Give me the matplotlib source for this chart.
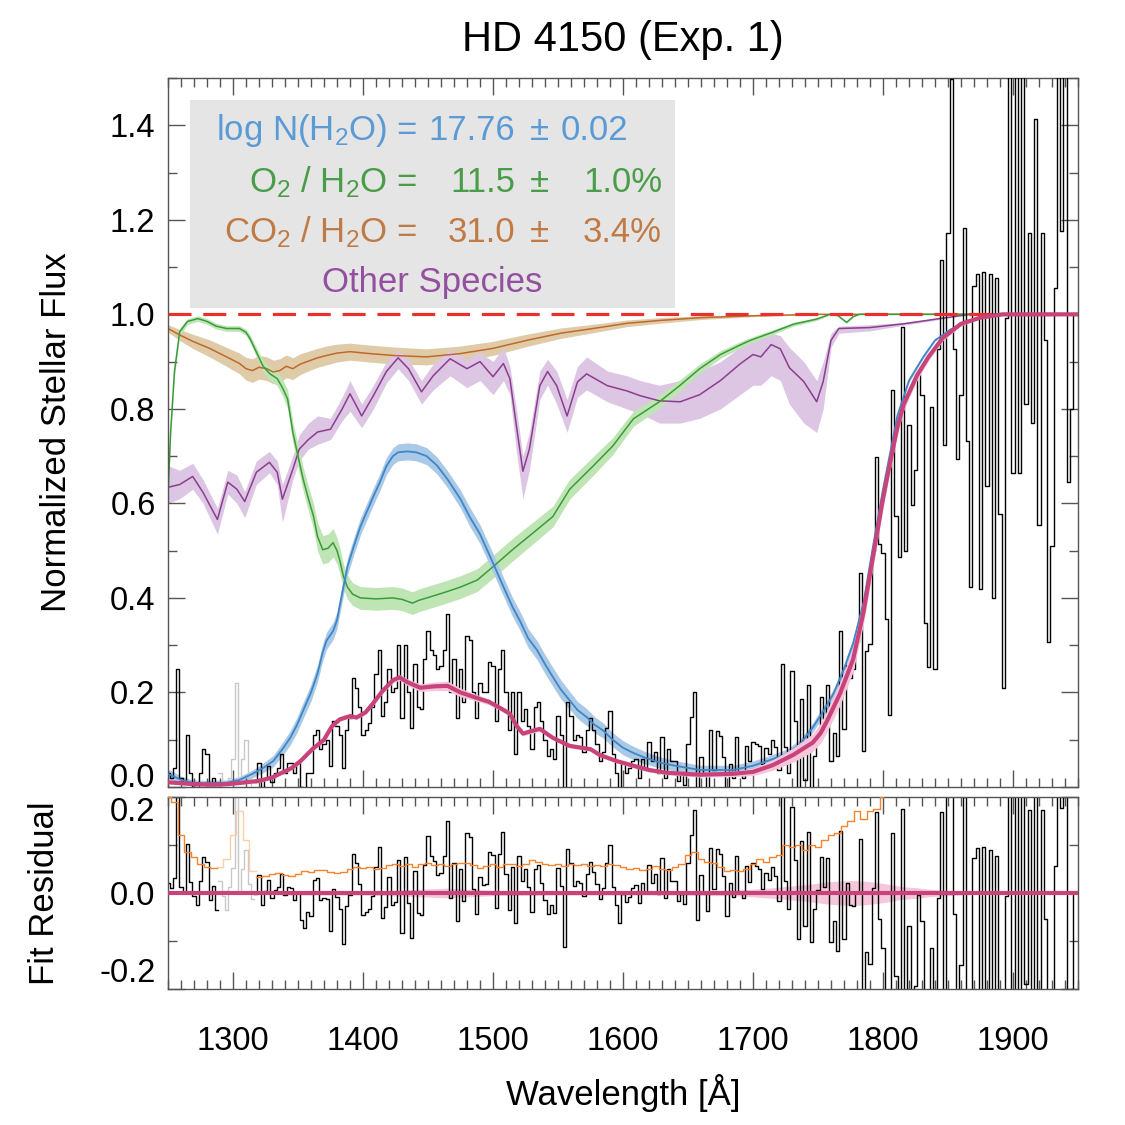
import matplotlib
matplotlib.use("Agg")
import matplotlib.pyplot as plt
from matplotlib.patches import Rectangle
from matplotlib.ticker import MultipleLocator
import numpy as np

flux = [
    0.03, 0.02, 0.04, 0.25, 0.02, 0.01, 0.11, 0.03, 0.0, -0.02,
    0.03, 0.08, 0.07, -0.01, 0.02, -0.03, 0.03, 0.0, -0.03, 0.02,
    0.06, 0.22, 0.01, 0.06, 0.1, 0.03, 0.0, 0.01, 0.05, -0.01,
    0.02, 0.045, 0.01, 0.03, 0.04, 0.07, 0.03, 0.05, 0.05, 0.03,
    0.05, 0.0, -0.01, 0.03, 0.03, 0.11, 0.12, 0.08, 0.09, 0.1,
    0.045, 0.14, 0.13, 0.11, 0.04, 0.12, 0.145, 0.23, 0.21, 0.17,
    0.11, 0.12, 0.135, 0.17, 0.24, 0.29, 0.15, 0.18, 0.25, 0.2,
    0.21, 0.3, 0.145, 0.3, 0.2, 0.125, 0.26, 0.17, 0.165, 0.27,
    0.33, 0.29, 0.28, 0.25, 0.255, 0.29, 0.365, 0.2, 0.27, 0.145,
    0.25, 0.18, 0.32, 0.31, 0.2, 0.145, 0.22, 0.2, 0.2, 0.265,
    0.255, 0.14, 0.25, 0.29, 0.2, 0.12, 0.2, 0.07, 0.2, 0.14,
    0.165, 0.13, 0.08, 0.17, 0.18, 0.14, 0.1, 0.066, 0.08, 0.06,
    0.15, 0.11, -0.02, 0.18, 0.15, 0.1, 0.11, 0.105, 0.075, 0.12,
    0.145, 0.12, 0.09, 0.055, 0.075, 0.125, 0.16, 0.07, 0.03, -0.01,
    0.05, 0.03, 0.04, 0.055, 0.06, 0.02, 0.06, 0.04, 0.095, 0.055,
    0.073, 0.03, 0.105, 0.02, 0.08, 0.055, 0.055, 0.013, 0.027, 0.005,
    0.09, 0.148, 0.2, -0.03, 0.063, 0.027, -0.01, 0.12, 0.035, 0.118,
    0.108, 0.063, -0.02, 0.048, 0.02, 0.105, 0.03, 0.02, 0.087, 0.055,
    0.095, 0.09, 0.087, 0.048, 0.083, 0.07, 0.1, 0.085, 0.037, 0.26,
    0.085, 0.03, 0.245, 0.14, -0.02, 0.187, 0.015, 0.216, -0.01, 0.066,
    0.114, 0.191, 0.143, 0.216, 0.056, 0.114, 0.066, 0.331, 0.123, 0.259,
    0.23, 0.25, 0.307, 0.452, 0.076, 0.288, 0.302, 0.5, 0.699, 0.515,
    0.496, 0.356, 0.153, 0.839, 0.573, 0.486, 0.974, 0.5, 0.766, 0.597,
    0.67, 0.873, 0.83, 0.346, 0.254, 0.805, 0.25, 0.926, 1.115, 0.723,
    1.173, 1.497, 0.926, 0.694, 0.83, 1.183, 0.733, 0.423, 1.061, 1.085,
    0.418, 1.09, 0.636, 1.085, 0.399, 1.076, 0.578, 0.21, 0.993, 1.7,
    0.665, 1.7, 0.665, 1.7, 0.81, 1.173, 0.77, 1.414, 0.554, 1.173,
    0.945, 0.307, 0.51, 1.056, 1.7, 1.177, 1.7, 0.645, 0.8, 1.0,
]
wl_start = 1250.0
wl_step = 2.5
mask_lo, mask_hi = 1290.0, 1317.5   # grey (excluded) pixels

# error on the fit, 5 A steps from 1250 A (orange, residual panel)
sigma = [
    0.2, 0.19, 0.12, 0.085, 0.075, 0.06, 0.055, 0.052, 0.055, 0.07,
    0.12, 0.17, 0.11, 0.045, 0.034, 0.036, 0.04, 0.042, 0.038, 0.035,
    0.04, 0.045, 0.044, 0.048, 0.047, 0.043, 0.042, 0.044, 0.05, 0.055,
    0.052, 0.055, 0.05, 0.053, 0.058, 0.06, 0.057, 0.06, 0.055, 0.06,
    0.062, 0.058, 0.06, 0.057, 0.06, 0.063, 0.062, 0.058, 0.052, 0.057,
    0.06, 0.055, 0.06, 0.06, 0.057, 0.06, 0.068, 0.065, 0.06, 0.058,
    0.06, 0.057, 0.06, 0.058, 0.06, 0.056, 0.058, 0.056, 0.06, 0.058,
    0.055, 0.05, 0.052, 0.048, 0.05, 0.056, 0.05, 0.048, 0.055, 0.06,
    0.08, 0.085, 0.07, 0.065, 0.062, 0.055, 0.045, 0.047, 0.045, 0.05,
    0.06, 0.07, 0.065, 0.075, 0.08, 0.1, 0.095, 0.1, 0.09, 0.1,
    0.095, 0.11, 0.12, 0.125, 0.14, 0.15, 0.17, 0.155, 0.17, 0.175,
    0.2,
]
sig_step = 5.0

# H2O transmission
h2o_wl = [1250, 1260, 1269, 1280, 1295, 1305, 1315, 1323, 1331, 1338,
          1344, 1349, 1354, 1360, 1365, 1369, 1372, 1377, 1380, 1384,
          1388, 1393, 1398, 1408, 1413, 1418, 1423, 1427, 1434, 1441,
          1449, 1457, 1465, 1475, 1482, 1490, 1500, 1507, 1515, 1521,
          1527, 1534, 1540, 1546, 1552, 1559, 1565, 1572, 1578, 1585,
          1592, 1600, 1608, 1617, 1628, 1640, 1659, 1685, 1700, 1711,
          1726, 1736, 1746, 1754, 1762, 1770, 1777, 1785, 1793, 1800,
          1805, 1811, 1820, 1831, 1840, 1852, 1865, 1877, 1900, 1950]
h2o_val = [0.028, 0.015, 0.009, 0.008, 0.009, 0.015, 0.028, 0.04, 0.055, 0.08,
           0.104, 0.13, 0.162, 0.2, 0.24, 0.285, 0.31, 0.33, 0.353, 0.41,
           0.466, 0.51, 0.551, 0.615, 0.645, 0.679, 0.7, 0.708, 0.71, 0.708,
           0.7, 0.68, 0.651, 0.609, 0.572, 0.535, 0.474, 0.43, 0.381, 0.35,
           0.315, 0.289, 0.26, 0.233, 0.207, 0.183, 0.163, 0.148, 0.132, 0.119,
           0.1, 0.083, 0.072, 0.062, 0.052, 0.045, 0.036, 0.036, 0.045, 0.055,
           0.07, 0.09, 0.126, 0.16, 0.198, 0.25, 0.304, 0.39, 0.52, 0.63,
           0.7, 0.785, 0.86, 0.91, 0.945, 0.968, 0.985, 0.994, 1.0, 1.0]
h2o_err = [0.01, 0.008, 0.006, 0.006, 0.006, 0.007, 0.008, 0.01, 0.012, 0.014,
           0.015, 0.016, 0.017, 0.018, 0.018, 0.018, 0.018, 0.018, 0.018, 0.018,
           0.018, 0.018, 0.018, 0.018, 0.018, 0.018, 0.018, 0.018, 0.018, 0.018,
           0.018, 0.018, 0.018, 0.019, 0.02, 0.02, 0.02, 0.02, 0.02, 0.02,
           0.02, 0.02, 0.02, 0.02, 0.02, 0.019, 0.018, 0.018, 0.017, 0.016,
           0.015, 0.015, 0.014, 0.013, 0.012, 0.011, 0.01, 0.01, 0.01, 0.01,
           0.01, 0.01, 0.01, 0.01, 0.01, 0.01, 0.01, 0.01, 0.008, 0.007,
           0.006, 0.005, 0.004, 0.003, 0.002, 0.001, 0.001, 0.0, 0.0, 0.0]

# O2 transmission
o2_wl = [1250, 1252, 1255, 1259, 1265, 1273, 1280, 1287, 1295, 1305,
         1310, 1313, 1318, 1323, 1328, 1334, 1338, 1342, 1346, 1350,
         1354, 1358, 1362, 1365, 1369, 1373, 1377, 1380, 1382, 1385,
         1388, 1392, 1398, 1410, 1423, 1430, 1438, 1443, 1449, 1462,
         1475, 1488, 1500, 1515, 1531, 1546, 1559, 1577, 1592, 1608,
         1628, 1644, 1659, 1675, 1690, 1698, 1715, 1731, 1749, 1759,
         1765, 1772, 1777, 1782, 1950]
o2_val = [0.615, 0.75, 0.88, 0.963, 0.985, 0.991, 0.985, 0.975, 0.97, 0.97,
          0.962, 0.949, 0.92, 0.891, 0.875, 0.864, 0.845, 0.821, 0.751, 0.70,
          0.651, 0.61, 0.572, 0.53, 0.502, 0.505, 0.517, 0.5, 0.481, 0.445,
          0.423, 0.408, 0.4, 0.398, 0.4, 0.397, 0.389, 0.395, 0.4, 0.411,
          0.423, 0.438, 0.466, 0.502, 0.538, 0.572, 0.63, 0.679, 0.721, 0.779,
          0.815, 0.85, 0.885, 0.915, 0.935, 0.945, 0.962, 0.979, 0.99, 1.0,
          0.998, 0.983, 0.995, 1.0, 1.0]
o2_err = [0.01, 0.01, 0.01, 0.008, 0.006, 0.006, 0.006, 0.006, 0.006, 0.006,
          0.007, 0.008, 0.01, 0.012, 0.014, 0.015, 0.017, 0.02, 0.022, 0.024,
          0.025, 0.026, 0.027, 0.03, 0.03, 0.03, 0.03, 0.028, 0.027, 0.026,
          0.025, 0.024, 0.024, 0.024, 0.024, 0.024, 0.024, 0.024, 0.024, 0.024,
          0.024, 0.024, 0.024, 0.024, 0.023, 0.022, 0.021, 0.02, 0.018, 0.016,
          0.014, 0.012, 0.01, 0.008, 0.007, 0.006, 0.005, 0.004, 0.003, 0.002,
          0.002, 0.002, 0.001, 0.0, 0.0]

# CO2 transmission
co2_wl = [1250, 1260, 1269, 1282, 1295, 1305, 1310, 1315, 1320, 1326,
          1331, 1336, 1341, 1346, 1352, 1357, 1365, 1372, 1380, 1390,
          1405, 1423, 1449, 1475, 1500, 1526, 1552, 1577, 1603, 1628,
          1660, 1700, 1750, 1950]
co2_val = [0.97, 0.955, 0.943, 0.928, 0.91, 0.896, 0.885, 0.881, 0.888, 0.885,
           0.878, 0.881, 0.89, 0.885, 0.895, 0.9, 0.908, 0.913, 0.918, 0.921,
           0.917, 0.913, 0.91, 0.917, 0.928, 0.945, 0.96, 0.97, 0.981, 0.987,
           0.993, 0.997, 1.0, 1.0]
co2_err = [0.008, 0.012, 0.015, 0.018, 0.02, 0.022, 0.024, 0.025, 0.025, 0.025,
           0.025, 0.025, 0.024, 0.023, 0.022, 0.021, 0.02, 0.02, 0.019, 0.018,
           0.018, 0.018, 0.017, 0.016, 0.015, 0.013, 0.011, 0.009, 0.007, 0.006,
           0.004, 0.002, 0.0, 0.0]

# other species
oth_wl = [1250, 1259, 1269, 1277, 1288, 1296, 1303, 1309, 1318, 1328,
          1334, 1338, 1346, 1351, 1358, 1365, 1375, 1384, 1390, 1399,
          1408, 1418, 1427, 1435, 1445, 1454, 1467, 1480, 1490, 1500,
          1508, 1513, 1518, 1523, 1528, 1536, 1542, 1549, 1557, 1565,
          1572, 1588, 1603, 1613, 1628, 1644, 1659, 1675, 1690, 1700,
          1706, 1714, 1721, 1728, 1739, 1749, 1754, 1760, 1766, 1790,
          1816, 1841, 1867, 1950]
oth_val = [0.634, 0.64, 0.657, 0.623, 0.566, 0.645, 0.63, 0.604, 0.666, 0.687,
           0.666, 0.609, 0.672, 0.715, 0.735, 0.751, 0.757, 0.8, 0.832, 0.785,
           0.828, 0.879, 0.908, 0.885, 0.836, 0.87, 0.906, 0.885, 0.9, 0.868,
           0.896, 0.864, 0.764, 0.668, 0.715, 0.849, 0.879, 0.849, 0.785, 0.857,
           0.874, 0.849, 0.838, 0.828, 0.817, 0.815, 0.83, 0.86, 0.895, 0.915,
           0.91, 0.936, 0.927, 0.887, 0.858, 0.815, 0.858, 0.945, 0.97, 0.972,
           0.98, 0.99, 1.0, 1.0]
oth_lo = [0.6, 0.61, 0.63, 0.6, 0.535, 0.62, 0.6, 0.57, 0.64, 0.665,
          0.64, 0.56, 0.65, 0.69, 0.715, 0.725, 0.735, 0.775, 0.795, 0.76,
          0.8, 0.855, 0.885, 0.86, 0.81, 0.84, 0.87, 0.845, 0.86, 0.83,
          0.86, 0.83, 0.71, 0.61, 0.67, 0.82, 0.85, 0.81, 0.75, 0.825,
          0.84, 0.815, 0.8, 0.79, 0.77, 0.77, 0.78, 0.8, 0.83, 0.85,
          0.85, 0.87, 0.86, 0.81, 0.77, 0.75, 0.8, 0.93, 0.96, 0.965,
          0.977, 0.988, 1.0, 1.0]
oth_hi = [0.68, 0.67, 0.685, 0.65, 0.59, 0.67, 0.66, 0.625, 0.69, 0.71,
          0.69, 0.64, 0.7, 0.745, 0.77, 0.785, 0.78, 0.825, 0.86, 0.81,
          0.85, 0.9, 0.925, 0.905, 0.86, 0.895, 0.925, 0.905, 0.92, 0.9,
          0.93, 0.89, 0.8, 0.7, 0.75, 0.88, 0.905, 0.88, 0.82, 0.89,
          0.91, 0.88, 0.87, 0.86, 0.85, 0.86, 0.88, 0.9, 0.93, 0.95,
          0.95, 0.96, 0.955, 0.93, 0.9, 0.86, 0.9, 0.96, 0.975, 0.978,
          0.983, 0.992, 1.0, 1.0]

# total model
mod_wl = [1250, 1260, 1270, 1280, 1290, 1300, 1310, 1320, 1330, 1336,
          1345, 1352, 1361, 1370, 1376, 1382, 1390, 1395, 1402, 1408,
          1415, 1423, 1428, 1434, 1444, 1455, 1465, 1475, 1488, 1497,
          1505, 1513, 1518, 1523, 1529, 1536, 1546, 1559, 1575, 1582,
          1595, 1608, 1620, 1634, 1659, 1685, 1700, 1715, 1731, 1746,
          1752, 1757, 1767, 1777, 1785, 1795, 1800, 1805, 1811, 1816,
          1826, 1835, 1846, 1860, 1875, 1892, 1950]
mod_val = [0.01, 0.008, 0.006, 0.005, 0.005, 0.007, 0.01, 0.013, 0.02, 0.028,
           0.04, 0.055, 0.08, 0.1, 0.128, 0.143, 0.15, 0.147, 0.158, 0.178,
           0.203, 0.226, 0.232, 0.222, 0.21, 0.213, 0.214, 0.2, 0.188, 0.18,
           0.168, 0.155, 0.13, 0.113, 0.118, 0.123, 0.104, 0.087, 0.08, 0.068,
           0.055, 0.045, 0.036, 0.03, 0.026, 0.028, 0.032, 0.046, 0.068, 0.094,
           0.114, 0.14, 0.198, 0.27, 0.37, 0.53, 0.61, 0.68, 0.76, 0.81,
           0.87, 0.91, 0.95, 0.98, 0.993, 1.0, 1.0]
mod_err = [0.003, 0.003, 0.003, 0.003, 0.003, 0.003, 0.003, 0.003, 0.003, 0.003,
           0.004, 0.004, 0.004, 0.004, 0.004, 0.004, 0.004, 0.004, 0.004, 0.005,
           0.005, 0.006, 0.006, 0.007, 0.008, 0.009, 0.01, 0.009, 0.007, 0.006,
           0.005, 0.005, 0.005, 0.005, 0.005, 0.005, 0.004, 0.004, 0.004, 0.004,
           0.004, 0.004, 0.004, 0.004, 0.005, 0.006, 0.008, 0.011, 0.015, 0.019,
           0.021, 0.023, 0.025, 0.026, 0.025, 0.022, 0.02, 0.018, 0.015, 0.013,
           0.011, 0.008, 0.006, 0.004, 0.002, 0.001, 0.0]

title = "HD 4150 (Exp. 1)"
fit_lines = [
    ("log N(H$_2$O) =", "17.76", "0.02", "#5b9bd5"),
    ("O$_2$ / H$_2$O =", "11.5", "1.0%", "#4a9d48"),
    ("CO$_2$ / H$_2$O =", "31.0", "3.4%", "#c07a45"),
]
other_label = ("Other Species", "#9450a0")


def style_axes(a):
    a.tick_params(which='both', direction='in', top=True, right=True,
                  color='#555555', width=1.0, labelsize=23.5)
    a.tick_params(which='major', length=12.5)
    a.tick_params(which='minor', length=6.5)
    a.tick_params(axis='x', pad=27)
    a.tick_params(axis='y', pad=9)
    for s in a.spines.values():
        s.set_color('#555555')
        s.set_linewidth(1.0)
    a.set_xlim(1250, 1950)
    a.xaxis.set_major_locator(MultipleLocator(100))
    a.xaxis.set_minor_locator(MultipleLocator(10))


if __name__ == '__main__':

    plt.rcParams['font.family'] = ['Liberation Sans', 'DejaVu Sans']
    plt.rcParams['mathtext.fontset'] = 'custom'
    plt.rcParams['mathtext.rm'] = 'Liberation Sans'
    plt.rcParams['mathtext.it'] = 'Liberation Sans:italic'
    plt.rcParams['mathtext.bf'] = 'Liberation Sans:bold'

    W = 1125.0
    fig = plt.figure(figsize=(11.25, 11.25), dpi=100)
    ax = fig.add_axes([168 / W, 1 - 787 / W, 910 / W, 709 / W])
    axr = fig.add_axes([168 / W, 1 - 989 / W, 910 / W, 192 / W])

    flux = np.array(flux)
    wl = wl_start + wl_step * np.arange(len(flux))
    masked = (wl >= mask_lo) & (wl < mask_hi)
    model_at_wl = np.interp(wl, mod_wl, mod_val)
    resid = flux - model_at_wl

    # main panel: species bands + lines
    ax.fill_between(co2_wl, np.array(co2_val) - co2_err, np.array(co2_val) + co2_err,
                    color='#e0cba8', lw=0, zorder=1)
    ax.fill_between(oth_wl, oth_lo, oth_hi, color='#dcc6e3', lw=0, zorder=1)
    ax.fill_between(o2_wl, np.array(o2_val) - o2_err, np.array(o2_val) + o2_err,
                    color='#bfe5b4', lw=0, zorder=1)
    ax.fill_between(h2o_wl, np.array(h2o_val) - h2o_err, np.array(h2o_val) + h2o_err,
                    color='#a9c9e7', lw=0, zorder=1)
    ax.plot(co2_wl, co2_val, color='#c0692b', lw=1.1, zorder=2)
    ax.plot(oth_wl, oth_val, color='#8c3d8e', lw=1.1, zorder=2)
    ax.plot(o2_wl, o2_val, color='#3b9b3b', lw=1.1, zorder=2)

    # data
    f_good = np.where(masked, np.nan, flux)
    f_bad = np.where(masked, flux, np.nan)
    ax.step(wl, f_bad, where='mid', color='#c8c8c8', lw=1.0, zorder=3)
    ax.step(wl, f_good, where='mid', color='black', lw=1.0, zorder=3)

    ax.plot(h2o_wl, h2o_val, color='#3f86c6', lw=1.3, zorder=4)
    ax.axhline(1.0, color='#e8302c', lw=2.3, dashes=(7.2, 3.7), zorder=4)
    ax.fill_between(mod_wl, np.array(mod_val) - mod_err, np.array(mod_val) + mod_err,
                    color='#f6c6dc', lw=0, zorder=4.5)
    ax.plot(mod_wl, mod_val, color='#c8437a', lw=3.0, zorder=5)

    # info box
    ax.add_patch(Rectangle((22 / 910, 479 / 709), 485 / 910, 208 / 709,
                           transform=ax.transAxes, facecolor='#e5e5e5',
                           edgecolor='none', zorder=0.5))
    base_y = [140, 192, 242]
    for (lhs, val, err, col), by in zip(fit_lines, base_y):
        fy = 1 - by / W
        fig.text(417 / W, fy, lhs, color=col, fontsize=25, ha='right', va='baseline')
        fig.text(515 / W, fy, val, color=col, fontsize=25, ha='right', va='baseline')
        fig.text(539 / W, fy, u"\u00b1", color=col, fontsize=25, ha='center', va='baseline')
        fig.text((628 if err == "0.02" else 662) / W, fy, err, color=col,
                 fontsize=25, ha='right', va='baseline')
    fig.text(432 / W, 1 - 292 / W, other_label[0], color=other_label[1],
             fontsize=25, ha='center', va='baseline')

    style_axes(ax)
    ax.set_ylim(0, 1.5)
    ax.set_yticks(np.arange(0, 1.41, 0.2), ["%.1f" % v for v in np.arange(0, 1.41, 0.2)])
    ax.yaxis.set_minor_locator(MultipleLocator(0.1))
    ax.tick_params(labelbottom=False)
    for lab in ax.get_yticklabels():
        if lab.get_text() == "0.0":
            lab.set_va('baseline')

    # residual panel
    r_good = np.where(masked, np.nan, resid)
    r_bad = np.where(masked, resid, np.nan)
    axr.fill_between(mod_wl, -np.array(mod_err), mod_err, color='#f6c6dc', lw=0, zorder=1)
    axr.step(wl, r_bad, where='mid', color='#c8c8c8', lw=1.0, zorder=2)
    axr.step(wl, r_good, where='mid', color='black', lw=1.0, zorder=2)

    sigma = np.array(sigma)
    sig_wl = wl_start + sig_step * np.arange(len(sigma))
    s_mask = (sig_wl >= mask_lo) & (sig_wl < mask_hi)
    axr.step(sig_wl, np.where(s_mask, sigma, np.nan), where='mid', color='#fbcfa8', lw=1.0, zorder=3)
    axr.step(sig_wl, np.where(s_mask, np.nan, sigma), where='mid', color='#f7842d', lw=1.0, zorder=3)
    axr.axhline(0.0, color='#c8437a', lw=3.0, zorder=4)

    style_axes(axr)
    axr.set_ylim(-0.2, 0.2)
    axr.set_yticks([-0.2, 0.0, 0.2], ["-0.2", "0.0", "0.2"])
    axr.yaxis.set_minor_locator(MultipleLocator(0.1))
    for lab in axr.get_yticklabels():
        if lab.get_text() == "0.2":
            lab.set_va('top')
        elif lab.get_text() == "-0.2":
            lab.set_va('bottom')

    # labels
    fig.text(623 / W, 1 - 40 / W, title, fontsize=30, ha='center', va='center')
    fig.text(623 / W, 1 - 1093 / W, u"Wavelength [\u00c5]", fontsize=25, ha='center', va='center')
    fig.text(57 / W, 1 - 432 / W, "Normalized Stellar Flux", fontsize=25,
             rotation=90, ha='center', va='center')
    fig.text(45 / W, 1 - 893 / W, "Fit Residual", fontsize=25,
             rotation=90, ha='center', va='center')

    fig.savefig("out.png", dpi=100)
